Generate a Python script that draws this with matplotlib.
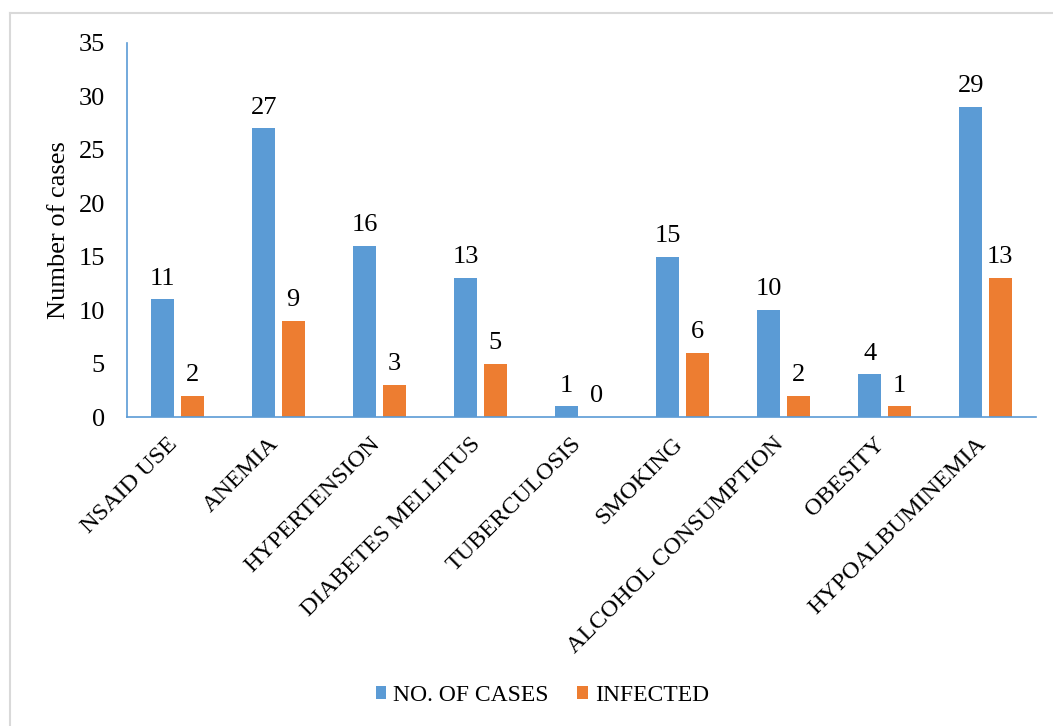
import matplotlib
matplotlib.use("Agg")
import matplotlib.pyplot as plt
import matplotlib.transforms as mtransforms
import numpy as np
from matplotlib.lines import Line2D

plt.rcParams['font.family'] = ['Liberation Serif', 'DejaVu Serif']

categories = ["NSAID USE", "ANEMIA", "HYPERTENSION", "DIABETES MELLITUS",
              "TUBERCULOSIS", "SMOKING", "ALCOHOL CONSUMPTION", "OBESITY",
              "HYPOALBUMINEMIA"]
no_of_cases = [11, 27, 16, 13, 1, 15, 10, 4, 29]
infected = [2, 9, 3, 5, 0, 6, 2, 1, 13]
series_names = ["NO. OF CASES", "INFECTED"]

BLUE = "#5B9BD5"
ORANGE = "#ED7D31"
FS = 19

fig = plt.figure(figsize=(10.53, 7.26), dpi=100)
ax = fig.add_axes([0.1206, 0.4256, 0.8633, 0.5152])

x = np.arange(len(categories))
w = 0.228
off = 0.146
b1 = ax.bar(x - off, no_of_cases, w, color=BLUE, label=series_names[0])
b2 = ax.bar(x + off, infected, w, color=ORANGE, label=series_names[1])

for bars, vals in ((b1, no_of_cases), (b2, infected)):
    for r, v in zip(bars, vals):
        ax.annotate(str(v), (r.get_x() + r.get_width() / 2, v),
                    xytext=(0, 7), textcoords="offset points",
                    ha="center", va="bottom", fontsize=FS)

ax.set_xlim(-0.5, len(categories) - 0.5)
ax.set_ylim(0, 35)
ax.set_yticks(np.arange(0, 36, 5))
ax.set_xticks(x)
ax.set_xticklabels(categories, rotation=45, ha="right", va="center",
                   rotation_mode="anchor", fontsize=17.5)
ax.tick_params(axis="both", length=0)
ax.tick_params(axis="y", labelsize=FS, pad=16)
ax.tick_params(axis="x", pad=17)
shift = mtransforms.ScaledTranslation(-3 / 100, 0, fig.dpi_scale_trans)
for lbl in ax.get_xticklabels():
    lbl.set_transform(lbl.get_transform() + shift)
ax.set_ylabel("Number of cases", fontsize=FS, labelpad=6)

for s in ("top", "right"):
    ax.spines[s].set_visible(False)
for s in ("left", "bottom"):
    ax.spines[s].set_color(BLUE)
    ax.spines[s].set_linewidth(1.2)

fig.legend(handles=[b1, b2], labels=series_names, loc="center",
           bbox_to_anchor=(0.515, 0.042), ncol=2, frameon=False, fontsize=17,
           handlelength=0.45, handleheight=0.45, handletextpad=0.3,
           columnspacing=1.2)

# outer frame lines (top and left)
fig.add_artist(Line2D([10 / 1053, 1], [1 - 13 / 726, 1 - 13 / 726],
                      transform=fig.transFigure, color="#D9D9D9", lw=1.5))
fig.add_artist(Line2D([10 / 1053, 10 / 1053], [0, 1 - 13 / 726],
                      transform=fig.transFigure, color="#D9D9D9", lw=1.5))

fig.savefig("out.png", dpi=100, facecolor="white")
